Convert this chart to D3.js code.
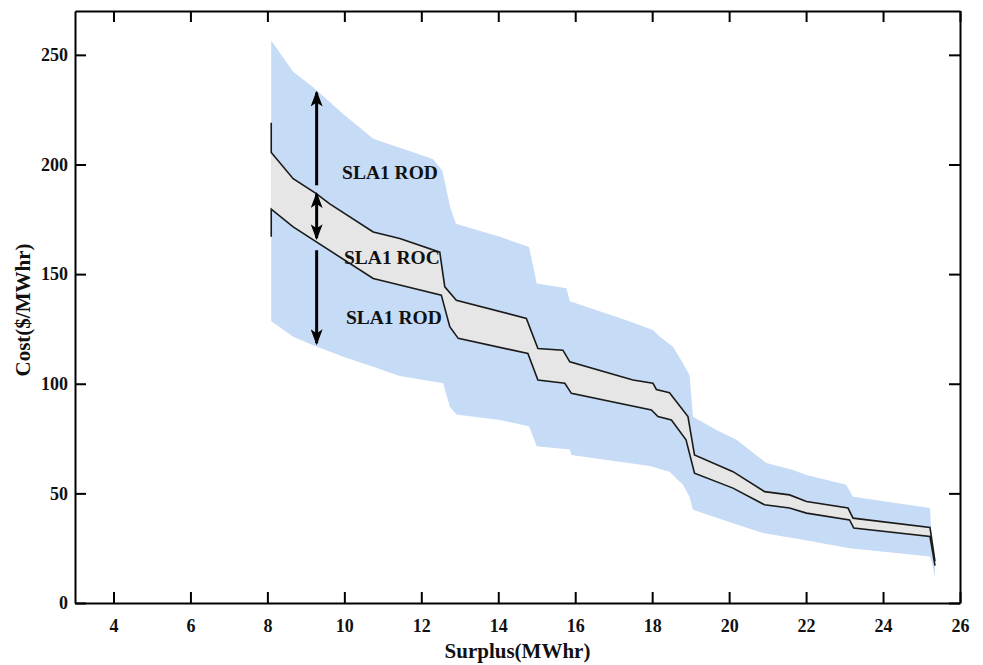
<!DOCTYPE html>
<html>
<head>
<meta charset="utf-8">
<script src="https://cdn.jsdelivr.net/npm/d3@7"></script>
<style>
  body { margin: 0; background: #fff; }
  text { font-family: "Liberation Serif", "Times New Roman", serif; font-weight: bold; fill: #111; }
</style>
</head>
<body>
<svg id="chart" width="983" height="665"></svg>
<script>
// outer band (SLA1 ROD) as [surplus, cost]
const blueUpper = [
  [8.1, 256.5], [8.4, 249], [8.67, 242.3], [9.19, 235.2], [9.97, 223], [10.75, 211.7],
  [12.3, 202.5], [12.55, 197], [12.75, 180.5], [12.9, 173], [14.04, 167], [14.8, 162.4],
  [15.0, 145.7], [15.77, 143.5], [15.86, 137.6], [17.33, 129], [18.02, 124.5], [18.2, 121.4],
  [18.54, 116.9], [18.8, 109.3], [18.97, 104], [19.06, 85], [19.67, 78.9], [20.19, 74.4],
  [20.97, 63.8], [21.66, 60.7], [22.01, 58.4], [23.04, 53.9], [23.22, 48.5], [25.22, 43.3],
  [25.28, 22], [25.35, 19]
];
const blueLower = [
  [8.1, 128.5], [8.67, 121.4], [9.19, 117.6], [9.97, 112.3], [10.75, 107.7], [11.44, 103.5],
  [12.57, 100.2], [12.74, 89.5], [12.91, 86], [14.04, 83.5], [14.8, 80.6], [15.0, 71.5],
  [15.86, 70], [15.9, 67.5], [17.94, 62.5], [18.45, 59.9], [18.8, 53.9], [18.97, 48.5],
  [19.06, 42.5], [20.1, 36.4], [20.88, 31.9], [21.92, 28.8], [23.13, 25], [25.22, 21.2],
  [25.28, 18], [25.35, 12]
];

// inner band (SLA1 ROC) edges
const blackUpper = [
  [8.1, 219], [8.1, 205.5], [8.67, 193.5], [9.27, 186.7], [9.62, 182], [10.75, 169.2],
  [11.44, 166.2], [12.48, 160], [12.61, 144.2], [12.91, 138.1], [14.73, 129.8], [15.03, 116.1],
  [15.68, 115.3], [15.86, 110], [17.5, 101.7], [18.02, 100.2], [18.11, 97.4], [18.45, 95.9],
  [18.93, 85], [19.1, 67.5], [20.1, 59.9], [20.92, 50.8], [21.57, 49.3], [22.01, 46.3],
  [23.09, 43.3], [23.22, 38.7], [25.22, 34.4], [25.35, 19]
];
const blackLower = [
  [8.1, 167], [8.1, 179.6], [8.67, 171.5], [10.75, 148], [11.44, 145], [12.52, 140.4],
  [12.74, 126], [12.96, 120.7], [14.77, 113.8], [15.03, 101.7], [15.73, 100.2], [15.9, 95.6],
  [17.98, 88], [18.15, 85], [18.5, 83.5], [18.88, 74.4], [19.1, 59.2], [20.1, 52.4],
  [20.92, 44.8], [21.57, 43.3], [22.01, 41], [23.13, 37.9], [23.24, 34.2], [25.22, 30.3],
  [25.35, 17]
];

const xTicks = [4, 6, 8, 10, 12, 14, 16, 18, 20, 22, 24, 26];
const yTicks = [0, 50, 100, 150, 200, 250];

const labels = [
  { text: "SLA1 ROD", x: 9.94, y: 193.5 },
  { text: "SLA1 ROC", x: 9.99, y: 154.8 },
  { text: "SLA1 ROD", x: 10.04, y: 127.2 }
];
const arrows = [
  { x: 9.28, from: 190.5, to: 232.8, both: false },
  { x: 9.28, from: 186.5, to: 166.4, both: true },
  { x: 9.28, from: 160.9, to: 118.5, both: false }
];

const margin = { top: 11, right: 23, bottom: 62, left: 75 },
      width = 983 - margin.left - margin.right,
      height = 665 - margin.top - margin.bottom;

const svg = d3.select("#chart");
const g = svg.append("g").attr("transform", "translate(" + margin.left + "," + margin.top + ")");

const x = d3.scaleLinear().domain([3, 26]).range([0, width]);
const y = d3.scaleLinear().domain([0, 270]).range([height, 0]);

const line = d3.line().x(d => x(d[0])).y(d => y(d[1]));

// bands as closed polygons
g.append("path")
    .attr("d", line(blueUpper.concat(blueLower.slice().reverse())) + "Z")
    .attr("fill", "#c6dbf5");

g.append("path")
    .attr("d", line(blackUpper.slice(1).concat(blackLower.slice(1).reverse())) + "Z")
    .attr("fill", "#e6e6e6");

[blackUpper, blackLower].forEach(s => {
  g.append("path")
      .datum(s)
      .attr("fill", "none")
      .attr("stroke", "#1a1a1a")
      .attr("stroke-width", 1.6)
      .attr("d", line);
});

// arrows
const defs = svg.append("defs");
defs.append("marker")
    .attr("id", "head")
    .attr("viewBox", "0 0 16 12")
    .attr("refX", 14).attr("refY", 6)
    .attr("markerWidth", 16).attr("markerHeight", 12)
    .attr("markerUnits", "userSpaceOnUse")
    .attr("orient", "auto-start-reverse")
  .append("path")
    .attr("d", "M0,0 L16,6 L0,12 L4,6 Z")
    .attr("fill", "#000");

arrows.forEach(a => {
  g.append("line")
      .attr("x1", x(a.x)).attr("x2", x(a.x))
      .attr("y1", y(a.from)).attr("y2", y(a.to))
      .attr("stroke", "#000")
      .attr("stroke-width", 3)
      .attr("marker-end", "url(#head)")
      .attr("marker-start", a.both ? "url(#head)" : null);
});

g.selectAll(".lbl")
  .data(labels)
  .enter().append("text")
    .attr("class", "lbl")
    .attr("x", d => x(d.x))
    .attr("y", d => y(d.y))
    .style("font-size", "19.5px")
    .text(d => d.text);

// axes: ticks point inward, box on all four sides
function styleAxis(sel) {
  sel.selectAll("path, line").attr("stroke", "#000").attr("stroke-width", 2);
  sel.selectAll("text").style("font-size", "18px").attr("fill", "#111")
     .style("font-family", "'Liberation Serif', 'Times New Roman', serif").style("font-weight", "bold");
}

g.append("g")
    .attr("transform", "translate(0," + height + ")")
    .call(d3.axisBottom(x).tickValues(xTicks).tickSize(-11).tickSizeOuter(0).tickPadding(16))
    .call(styleAxis);

g.append("g")
    .call(d3.axisLeft(y).tickValues(yTicks).tickSize(-11).tickSizeOuter(0).tickPadding(7))
    .call(styleAxis);

g.append("g")
    .call(d3.axisTop(x).tickValues(xTicks).tickSize(-11).tickSizeOuter(0).tickFormat(""))
    .call(styleAxis);

g.append("g")
    .attr("transform", "translate(" + width + ",0)")
    .call(d3.axisRight(y).tickValues(yTicks).tickSize(-11).tickSizeOuter(0).tickFormat(""))
    .call(styleAxis);

svg.append("text")
    .attr("x", margin.left + width / 2)
    .attr("y", 658)
    .attr("text-anchor", "middle")
    .style("font-size", "21px")
    .text("Surplus(MWhr)");

svg.append("text")
    .attr("transform", "translate(30," + (margin.top + height / 2 + 3) + ") rotate(-90)")
    .attr("text-anchor", "middle")
    .style("font-size", "21px")
    .text("Cost($/MWhr)");
</script>
</body>
</html>
